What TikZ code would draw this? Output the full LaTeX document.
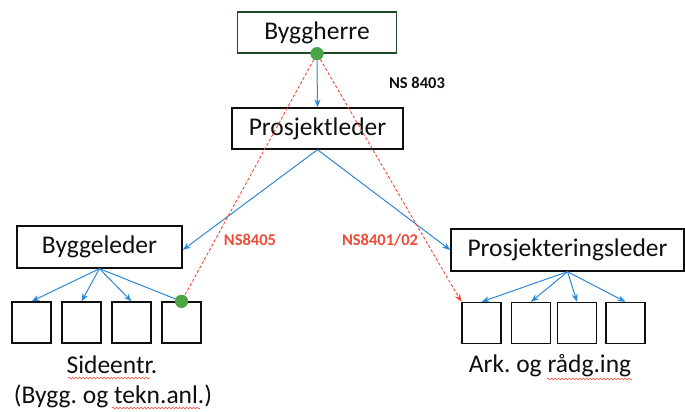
\documentclass[tikz,border=0pt]{standalone}
\usepackage{fontspec}
\setmainfont{Carlito}
\usetikzlibrary{arrows.meta,decorations.pathmorphing}
\definecolor{arrblue}{RGB}{45,135,215}
\definecolor{dashred}{RGB}{240,75,55}
\definecolor{dotgreen}{RGB}{75,165,70}
\definecolor{boxgreen}{RGB}{30,75,40}
\definecolor{inkc}{RGB}{15,15,15}
\tikzset{
  bigbox/.style={draw=inkc, line width=1.4pt, fill=white, inner sep=0pt, font=\fontsize{25.5}{28}\selectfont, text=inkc},
  smallbox/.style={draw=inkc, line width=1.3pt, inner sep=0pt, minimum width=39pt, minimum height=41pt},
  bluearrow/.style={draw=arrblue, line width=1pt, -{Stealth[length=8pt,width=6pt]}},
  blueline/.style={draw=arrblue, line width=1pt},
  reddash/.style={draw=dashred, line width=0.9pt, dash pattern=on 3pt off 2pt},
  gdot/.style={circle, fill=dotgreen, inner sep=0pt, minimum size=13pt},
  nslabel/.style={font=\bfseries\fontsize{16.5}{19}\selectfont},
  bottomlabel/.style={font=\fontsize{25.5}{28}\selectfont, text=inkc, inner sep=0pt},
  squig/.style={draw=dashred, line width=0.6pt, decorate, decoration={snake, segment length=3.5pt, amplitude=0.9pt}}
}
\begin{document}
\frenchspacing
\begin{tikzpicture}[x=1pt,y=-1pt]
\useasboundingbox (0,0) rectangle (685,412);
% main boxes
\node[bigbox, draw=boxgreen, minimum width=159pt, minimum height=41pt] (bh) at (317,32.5) {Byggherre};
\node[bigbox, minimum width=171pt, minimum height=41pt] (pl) at (317.5,128.5) {Prosjektleder};
\node[bigbox, minimum width=165pt, minimum height=42pt] (bl) at (99.5,247) {Byggeleder};
\node[bigbox, minimum width=233pt, minimum height=42pt] (prl) at (567.5,250) {Prosjekteringsleder};
% child boxes
\node[smallbox] (b1) at (31.5,322.5) {};
\node[smallbox] (b2) at (81.5,322.5) {};
\node[smallbox] (b3) at (131.5,322.5) {};
\node[smallbox] (b4) at (181.5,322.5) {};
\node[smallbox] (r1) at (481.5,323) {};
\node[smallbox] (r2) at (531,323) {};
\node[smallbox] (r3) at (577,323) {};
\node[smallbox] (r4) at (625.5,323) {};
% green dots
\node[gdot] (d1) at (bh.south) {};
\node[gdot] (d2) at (b4.north) {};
% blue connectors
\draw[bluearrow] (d1.south) -- (pl.north);
\draw[bluearrow] (pl.south) -- ([yshift=-3pt]bl.east);
\draw[bluearrow] (pl.south) -- (prl.west);
\draw[bluearrow] (bl.south) -- (b1.north);
\draw[bluearrow] (bl.south) -- (b2.north);
\draw[bluearrow] (bl.south) -- (b3.north);
\draw[blueline] (bl.south) -- (d2);
\draw[bluearrow] (prl.south) -- (r1.north);
\draw[bluearrow] (prl.south) -- (r2.north);
\draw[bluearrow] (prl.south) -- (r3.north);
\draw[bluearrow] (prl.south) -- (r4.north);
% red dashed connectors
\draw[reddash] (d1) -- (d2);
\draw[reddash, -{Stealth[length=8pt,width=6pt]}] (d1) -- (r1.north west);
\node[gdot] at (d1) {};
\node[gdot] at (d2) {};
% labels
\node[nslabel, text=inkc] (ns8403) at (417,83) {NS 8403};
\node[nslabel, text=dashred] (ns8405) at (250,240) {NS8405};
\node[nslabel, text=dashred] (ns8401) at (380,240) {NS8401/02};
\node[bottomlabel] (side) at (112,365) {Sideentr.};
\node[bottomlabel] (bygg) at (113,396) {(Bygg. og tekn.anl.)};
\node[bottomlabel] (ark) at (550,366) {Ark. og rådg.ing};
% spell-check squiggles
\coordinate (s1a) at (68,378); \coordinate (s1b) at (150,378);
\coordinate (s2a) at (112,408); \coordinate (s2b) at (200,408);
\coordinate (s3a) at (547,379); \coordinate (s3b) at (632,379);
\draw[squig] (s1a) -- (s1b);
\draw[squig] (s2a) -- (s2b);
\draw[squig] (s3a) -- (s3b);
\end{tikzpicture}
\end{document}
